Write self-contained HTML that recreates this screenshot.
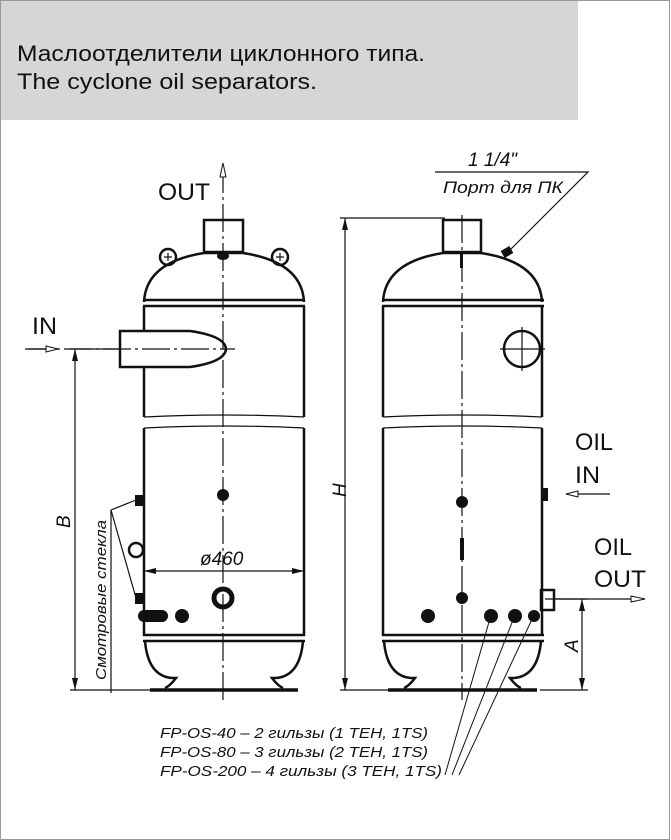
<!DOCTYPE html>
<html><head><meta charset="utf-8"><style>
html,body{margin:0;padding:0;background:#fff}
svg{display:block}
text{font-family:"Liberation Sans","DejaVu Sans",sans-serif;fill:#111}
</style></head><body>
<svg width="671" height="840" viewBox="0 0 671 840" xmlns="http://www.w3.org/2000/svg">
<rect x="0.5" y="0.5" width="669" height="839" fill="#fff" stroke="#9a9a9a"/>
<rect x="1" y="1" width="577" height="119" fill="#d6d6d6"/>
<text x="17" y="61" font-size="22" textLength="408" lengthAdjust="spacingAndGlyphs">Маслоотделители циклонного типа.</text>
<text x="17" y="89" font-size="22" textLength="300" lengthAdjust="spacingAndGlyphs">The cyclone oil separators.</text>

<g fill="none" stroke="#111" stroke-width="2.5">
<rect x="204" y="220" width="39" height="32"/>
<path d="M144 302 Q146 262 204 253 L243 253 Q302 262 304 302"/>
<path d="M143 300 H305 M143 306 H305"/>
<path d="M144 306 V417 M304 306 V417 M144 428 V636 M304 428 V636"/>
<path d="M143 635 H305 M143 641 H305"/>
<path d="M145 641 Q148 676 172 678 L176 678 Q170 686 165 688 M303 641 Q300 676 276 678 L272 678 Q278 686 283 688"/>
<path d="M150 690 H298" stroke-width="3.5"/>
<path d="M120 331 H190 Q225 336 226 349 Q225 362 190 367 H120 Z" fill="#fff"/>
<circle cx="168" cy="257" r="8"/><circle cx="280" cy="257" r="8"/>
<rect x="443" y="220" width="38" height="32"/>
<path d="M383 302 Q385 262 443 253 L481 253 Q540 262 542 302"/>
<path d="M382 300 H544 M382 306 H544"/>
<path d="M383 306 V417 M542 306 V417 M383 428 V636 M542 428 V636"/>
<path d="M382 635 H544 M382 641 H544"/>
<path d="M384 641 Q387 676 411 678 L415 678 Q409 686 404 688 M541 641 Q538 676 514 678 L510 678 Q516 686 521 688"/>
<path d="M388 690 H537" stroke-width="3.5"/>
<circle cx="522" cy="349" r="18"/>
<rect x="541" y="590" width="13" height="20"/>
</g>
<g fill="none" stroke="#111" stroke-width="1.2">
<path d="M144 417 Q224 413 304 417 M144 428 Q224 424 304 428"/>
<path d="M383 417 Q462 413 542 417 M383 428 Q462 424 542 428"/>
<path d="M223 165 V700" stroke-dasharray="28 4 3 4"/>
<path d="M462 215 V700" stroke-dasharray="28 4 3 4"/>
<path d="M25 349 H235" stroke-dasharray="28 4 3 4"/>
<path d="M500 349 H545 M522 327 V371"/>
<path d="M164 257 H172 M168 253 V261 M276 257 H284 M280 253 V261"/>
<path d="M75 349 V690 M70 349 H120 M70 690 H150"/>
<path d="M345 218 V690 M340 218 H445 M340 690 H388"/>
<path d="M144 571 H304"/>
<path d="M582 599 V690 M545 599 H588 M540 690 H588"/>
<path d="M435 172 H588 L510 250"/>
<path d="M566 494 H610 M554 599 H645"/>
<path d="M28 349 H58"/>
<path d="M111 693 V510 M111 510 L136 500 M111 510 L136 598"/>
<path d="M445 775 L491 615 M452 775 L515 615 M459 775 L534 615" stroke-width="1"/>
</g>
<g fill="#111">
<path d="M75 349 l-3 12 h6z M75 690 l-3 -12 h6z"/>
<path d="M345 218 l-3 12 h6z M345 690 l-3 -12 h6z"/>
<path d="M582 599 l-3 12 h6z M582 690 l-3 -12 h6z"/>
<path d="M144 571 l12 -3 v6z M304 571 l-12 -3 v6z"/>
</g>
<g fill="#fff" stroke="#111" stroke-width="1">
<path d="M223 163 l-3 14 h6z"/>
<path d="M58 349 l-12 -3 v6z"/>
<path d="M566 494 l12 -3 v6z"/>
<path d="M645 599 l-14 -3 v6z"/>
</g>
<g fill="#111">
<ellipse cx="223" cy="256" rx="6" ry="4"/>
<circle cx="223" cy="495" r="6"/>
<circle cx="223" cy="598" r="9" fill="none" stroke="#111" stroke-width="5"/>
<rect x="135" y="495" width="8" height="11"/>
<rect x="135" y="593" width="8" height="11"/>
<circle cx="136" cy="550" r="7" fill="none" stroke="#111" stroke-width="2.5"/>
<rect x="138" y="610" width="30" height="12" rx="6"/>
<circle cx="182" cy="616" r="7"/>
<rect x="460" y="252" width="3" height="16"/>
<rect x="502" y="248" width="10" height="8" transform="rotate(-30 507 252)"/>
<circle cx="462" cy="502" r="6"/>
<rect x="460" y="538" width="4" height="22"/>
<circle cx="462" cy="598" r="6"/>
<circle cx="428" cy="616" r="7"/>
<circle cx="491" cy="616" r="7"/>
<circle cx="515" cy="616" r="7"/>
<circle cx="534" cy="616" r="6"/>
<rect x="542" y="488" width="6" height="13"/>
</g>
<text x="158" y="200" font-size="24" textLength="52" lengthAdjust="spacingAndGlyphs">OUT</text>
<text x="32" y="334" font-size="24" textLength="25" lengthAdjust="spacingAndGlyphs">IN</text>
<text x="575" y="450" font-size="24" textLength="38" lengthAdjust="spacingAndGlyphs">OIL</text>
<text x="575" y="483" font-size="24" textLength="25" lengthAdjust="spacingAndGlyphs">IN</text>
<text x="594" y="555" font-size="24" textLength="38" lengthAdjust="spacingAndGlyphs">OIL</text>
<text x="594" y="587" font-size="24" textLength="52" lengthAdjust="spacingAndGlyphs">OUT</text>
<text x="200" y="565" font-size="19" font-style="italic">ø460</text>
<text x="468" y="166" font-size="19" font-style="italic">1 1/4"</text>
<text x="443" y="193" font-size="17" font-style="italic" textLength="120" lengthAdjust="spacingAndGlyphs">Порт для ПК</text>
<text x="0" y="0" font-size="19" font-style="italic" transform="translate(70 528) rotate(-90)">B</text>
<text x="0" y="0" font-size="19" font-style="italic" transform="translate(346 497) rotate(-90)">H</text>
<text x="0" y="0" font-size="19" font-style="italic" transform="translate(578 652) rotate(-90)">A</text>
<text x="0" y="0" font-size="15" font-style="italic" transform="translate(106 680) rotate(-90)" textLength="160" lengthAdjust="spacingAndGlyphs">Смотровые стекла</text>
<text x="160" y="738" font-size="15" font-style="italic" textLength="268" lengthAdjust="spacingAndGlyphs">FP-OS-40 – 2 гильзы (1 TEH, 1TS)</text>
<text x="160" y="757" font-size="15" font-style="italic" textLength="268" lengthAdjust="spacingAndGlyphs">FP-OS-80 – 3 гильзы (2 TEH, 1TS)</text>
<text x="160" y="776" font-size="15" font-style="italic" textLength="282" lengthAdjust="spacingAndGlyphs">FP-OS-200 – 4 гильзы (3 TEH, 1TS)</text>
</svg>
</body></html>
